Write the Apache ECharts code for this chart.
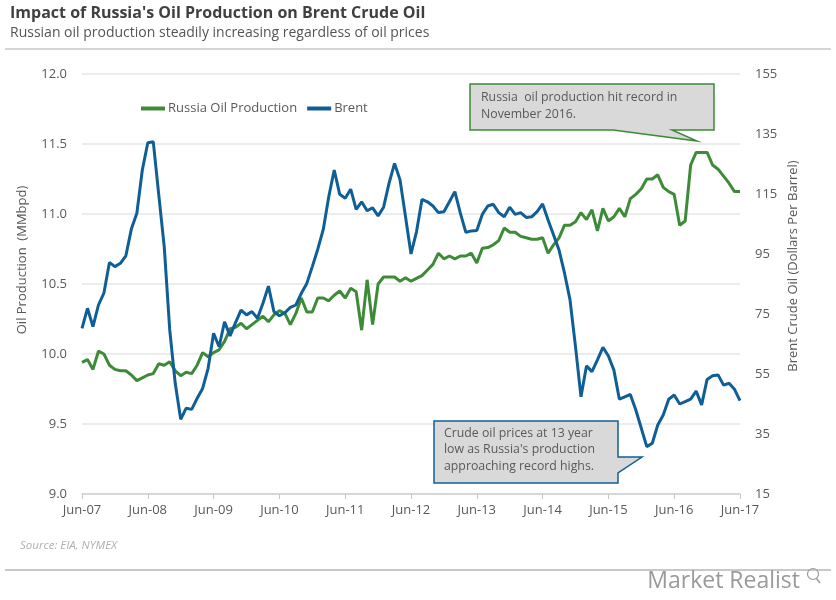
<!DOCTYPE html>
<html>
<head>
<meta charset="utf-8">
<script src="https://cdn.jsdelivr.net/npm/echarts@6/dist/echarts.min.js"></script>
<style>
html,body{margin:0;padding:0;background:#fff;}
#chart{width:836px;height:600px;}
</style>
</head>
<body>
<div id="chart"></div>
<script>
// Monthly categories Jun-07 .. Jun-17
const monthNames = ['Jan','Feb','Mar','Apr','May','Jun','Jul','Aug','Sep','Oct','Nov','Dec'];
const startYear = 2007, startMonth = 5, monthCount = 121;
const categories = [];
for (let i = 0; i < monthCount; i++) {
  const m = (startMonth + i) % 12;
  const y = startYear + Math.floor((startMonth + i) / 12);
  categories.push(monthNames[m] + '-' + String(y % 100).padStart(2, '0'));
}

// Russia oil production (MMbpd)
const russiaProduction = [
  9.94, 9.96, 9.89, 10.02, 10.00, 9.92, 9.89,
  9.88, 9.88, 9.85, 9.81, 9.83, 9.85, 9.86, 9.93, 9.92, 9.945, 9.88, 9.845,
  9.87, 9.86, 9.92, 10.01, 9.98, 10.01, 10.03, 10.09, 10.18, 10.19, 10.22, 10.18,
  10.21, 10.24, 10.27, 10.23, 10.28, 10.31, 10.29, 10.21, 10.29, 10.40, 10.30, 10.30,
  10.40, 10.40, 10.38, 10.42, 10.45, 10.40, 10.47, 10.445, 10.17, 10.53, 10.21, 10.50,
  10.55, 10.55, 10.55, 10.52, 10.545, 10.52, 10.54, 10.56, 10.60, 10.64, 10.72, 10.68,
  10.70, 10.68, 10.70, 10.70, 10.72, 10.65, 10.755, 10.76, 10.78, 10.81, 10.90, 10.87,
  10.87, 10.84, 10.83, 10.82, 10.82, 10.83, 10.72, 10.78, 10.83, 10.92, 10.92, 10.945,
  11.01, 10.96, 11.03, 10.88, 11.04, 10.95, 10.98, 11.04, 10.98, 11.11, 11.14, 11.18,
  11.25, 11.25, 11.28, 11.19, 11.16, 11.14, 10.92, 10.95, 11.35, 11.44, 11.44, 11.44,
  11.35, 11.32, 11.27, 11.22, 11.16, 11.16
];

// Brent crude oil (USD per barrel)
const brentPrice = [
  70.2, 76.9, 70.8, 78.0, 82.0, 92.2, 90.8,
  91.9, 94.4, 103.3, 108.6, 123.0, 132.1, 132.4, 114.7, 97.4, 69.7, 51.9, 39.9,
  43.6, 43.2, 46.9, 50.2, 56.9, 68.6, 64.1, 72.4, 67.7, 72.1, 76.3, 74.7,
  75.8, 73.6, 78.6, 84.3, 75.8, 74.4, 75.4, 77.2, 78.0, 81.9, 85.2, 90.8,
  96.6, 103.2, 114.1, 123.0, 114.9, 113.6, 116.6, 109.9, 112.4, 109.4, 110.4, 107.7,
  110.6, 118.6, 125.2, 119.7, 107.4, 95.0, 102.4, 113.2, 112.4, 111.0, 108.8, 109.1,
  112.4, 115.8, 108.6, 102.2, 102.7, 102.8, 108.2, 111.0, 111.6, 108.8, 107.4, 110.6,
  108.2, 108.8, 107.2, 107.4, 109.1, 111.7, 106.3, 101.3, 96.3, 88.6, 79.7, 64.1,
  47.4, 57.7, 55.8, 59.7, 63.9, 61.0, 56.3, 46.6, 47.4, 48.2, 43.0, 36.9,
  30.8, 31.9, 38.0, 41.3, 46.6, 48.0, 45.0, 45.8, 46.6, 49.3, 44.7, 53.2,
  54.4, 54.7, 51.3, 51.9, 49.9, 46.1
];

const seriesNames = ['Russia Oil Production', 'Brent'];
const leftAxisRange = [9, 12, 0.5];
const rightAxisRange = [15, 155, 20];

const GREEN = '#3d8b37';
const BLUE = '#0f5f96';
const TXT = '#595959';
const FONT = '"Open Sans", "DejaVu Sans", sans-serif';

const chart = echarts.init(document.getElementById('chart'), null, {renderer: 'canvas'});

const option = {
  backgroundColor: '#ffffff',
  animation: false,
  textStyle: {fontFamily: FONT},
  grid: {left: 82, right: 96, top: 74, bottom: 106, containLabel: false},
  legend: {
    left: 136, top: 97,
    itemWidth: 24, itemHeight: 4, itemGap: 10,
    icon: 'rect',
    textStyle: {color: TXT, fontSize: 13, fontFamily: FONT, padding: [0, 0, 0, -2]},
    data: seriesNames
  },
  xAxis: {
    type: 'category',
    data: categories,
    boundaryGap: false,
    axisLine: {lineStyle: {color: '#d0d0d0', width: 1.5}},
    axisTick: {show: true, length: 5, lineStyle: {color: '#c8c8c8'}, interval: (i) => i % 12 === 0},
    axisLabel: {color: TXT, fontSize: 13, margin: 10, interval: (i) => i % 12 === 0, fontFamily: FONT},
    splitLine: {show: false}
  },
  yAxis: [
    {
      type: 'value', min: leftAxisRange[0], max: leftAxisRange[1], interval: leftAxisRange[2],
      position: 'left',
      axisLine: {show: false}, axisTick: {show: false},
      axisLabel: {color: TXT, fontSize: 13, margin: 15, formatter: v => v.toFixed(1), fontFamily: FONT},
      splitLine: {lineStyle: {color: '#e6e6e6', width: 1.5}}
    },
    {
      type: 'value', min: rightAxisRange[0], max: rightAxisRange[1], interval: rightAxisRange[2],
      position: 'right',
      axisLine: {show: false}, axisTick: {show: false},
      axisLabel: {color: TXT, fontSize: 13, margin: 15, fontFamily: FONT},
      splitLine: {show: false}
    }
  ],
  series: [
    {
      name: seriesNames[0], type: 'line', yAxisIndex: 0, data: russiaProduction,
      symbol: 'none', color: GREEN, lineStyle: {width: 3, color: GREEN}, z: 3
    },
    {
      name: seriesNames[1], type: 'line', yAxisIndex: 1, data: brentPrice,
      symbol: 'none', color: BLUE, lineStyle: {width: 3, color: BLUE}, z: 4
    }
  ],
  graphic: [
    {type: 'text', left: 10, top: 5, style: {text: "Impact of Russia's Oil Production on Brent Crude Oil", fill: '#404040', font: 'bold 16px ' + FONT}},
    {type: 'text', left: 10, top: 26, style: {text: 'Russian oil production steadily increasing regardless of oil prices', fill: '#555555', font: '14px ' + FONT}},
    {type: 'line', shape: {x1: 5, y1: 49, x2: 831, y2: 49}, style: {stroke: '#c8c8c8', lineWidth: 1.5}},
    {type: 'text', x: 22, y: 260, rotation: Math.PI / 2, style: {text: 'Oil Production  (MMbpd)', fill: TXT, font: '13px ' + FONT, textAlign: 'center', textVerticalAlign: 'middle'}},
    {type: 'text', x: 793, y: 266, rotation: Math.PI / 2, style: {text: 'Brent Crude Oil (Dollars Per Barrel)', fill: TXT, font: '13px ' + FONT, textAlign: 'center', textVerticalAlign: 'middle'}},
    // annotation 1 (green)
    {type: 'polygon', z: 10, shape: {points: [[470, 84], [714, 84], [714, 130], [672, 130], [697, 141], [613, 130], [470, 130]]},
      style: {fill: '#d9d9d9', stroke: GREEN, lineWidth: 1.5}},
    {type: 'text', z: 11, left: 481, top: 89, style: {text: 'Russia  oil production hit record in\nNovember 2016.', fill: TXT, font: '12.3px ' + FONT, lineHeight: 17}},
    // annotation 2 (blue)
    {type: 'polygon', z: 10, shape: {points: [[434, 421], [618, 421], [618, 457], [642, 457], [618, 473], [618, 483], [434, 483]]},
      style: {fill: '#d9d9d9', stroke: BLUE, lineWidth: 1.5}},
    {type: 'text', z: 11, left: 444, top: 425, style: {text: "Crude oil prices at 13 year\nlow as Russia's production\napproaching record highs.", fill: TXT, font: '12.3px ' + FONT, lineHeight: 16.5}},
    {type: 'text', left: 20, top: 540, style: {text: 'Source: EIA, NYMEX', fill: '#b0b0b0', font: 'italic 11.5px ' + FONT}},
    {type: 'line', shape: {x1: 5, y1: 570, x2: 831, y2: 570}, style: {stroke: '#c8c8c8', lineWidth: 2}},
    {type: 'text', right: 36, top: 570, style: {text: 'Market Realist', fill: '#9a9a9a', font: '23px "Liberation Sans Narrow", ' + FONT}},
    {type: 'circle', shape: {cx: 813, cy: 574, r: 5.5}, style: {fill: 'none', stroke: '#9a9a9a', lineWidth: 1.2}},
    {type: 'line', shape: {x1: 816.5, y1: 578.5, x2: 820, y2: 583}, style: {stroke: '#9a9a9a', lineWidth: 1.5}}
  ]
};
chart.setOption(option);
</script>
</body>
</html>
